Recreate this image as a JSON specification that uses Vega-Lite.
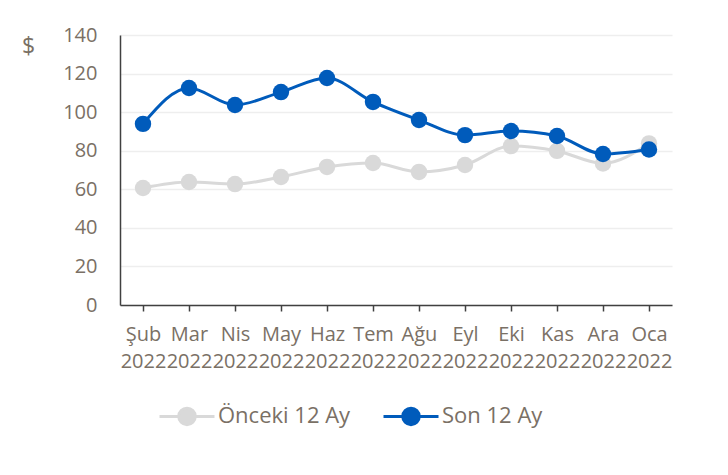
{
  "$schema": "https://vega.github.io/schema/vega-lite/v6.json",
  "width": 552,
  "height": 270,
  "autosize": "none",
  "padding": {"left": 120, "top": 35, "right": 56, "bottom": 170},
  "background": "white",
  "config": {"font": "Open Sans", "view": {"stroke": null}},
  "data": {
    "values": [
      {"month": "Şub 2022", "series": "Önceki 12 Ay", "value": 60.7},
      {"month": "Mar 2022", "series": "Önceki 12 Ay", "value": 63.8},
      {"month": "Nis 2022", "series": "Önceki 12 Ay", "value": 62.7},
      {"month": "May 2022", "series": "Önceki 12 Ay", "value": 66.4},
      {"month": "Haz 2022", "series": "Önceki 12 Ay", "value": 71.6},
      {"month": "Tem 2022", "series": "Önceki 12 Ay", "value": 73.6},
      {"month": "Ağu 2022", "series": "Önceki 12 Ay", "value": 69.0},
      {"month": "Eyl 2022", "series": "Önceki 12 Ay", "value": 72.6},
      {"month": "Eki 2022", "series": "Önceki 12 Ay", "value": 82.4},
      {"month": "Kas 2022", "series": "Önceki 12 Ay", "value": 79.9},
      {"month": "Ara 2022", "series": "Önceki 12 Ay", "value": 73.4},
      {"month": "Oca 2022", "series": "Önceki 12 Ay", "value": 83.8},
      {"month": "Şub 2022", "series": "Son 12 Ay", "value": 93.9},
      {"month": "Mar 2022", "series": "Son 12 Ay", "value": 112.5},
      {"month": "Nis 2022", "series": "Son 12 Ay", "value": 103.7},
      {"month": "May 2022", "series": "Son 12 Ay", "value": 110.4},
      {"month": "Haz 2022", "series": "Son 12 Ay", "value": 117.7},
      {"month": "Tem 2022", "series": "Son 12 Ay", "value": 105.3},
      {"month": "Ağu 2022", "series": "Son 12 Ay", "value": 95.9},
      {"month": "Eyl 2022", "series": "Son 12 Ay", "value": 88.1},
      {"month": "Eki 2022", "series": "Son 12 Ay", "value": 90.2},
      {"month": "Kas 2022", "series": "Son 12 Ay", "value": 87.6},
      {"month": "Ara 2022", "series": "Son 12 Ay", "value": 78.3},
      {"month": "Oca 2022", "series": "Son 12 Ay", "value": 80.6}
    ]
  },
  "encoding": {
    "x": {
      "field": "month",
      "type": "ordinal",
      "sort": null,
      "scale": {"type": "point", "padding": 0.5},
      "axis": {
        "title": null,
        "labelAngle": 0,
        "labelExpr": "split(datum.label, ' ')",
        "labelFontSize": 20,
        "labelLineHeight": 27,
        "labelColor": "#7a7065",
        "labelPadding": 13,
        "labelOverlap": false,
        "labelBound": false,
        "domainColor": "#404040",
        "domainWidth": 1.5,
        "tickColor": "#404040",
        "tickWidth": 1.5,
        "tickSize": 6,
        "grid": false
      }
    },
    "y": {
      "field": "value",
      "type": "quantitative",
      "scale": {"domain": [0, 140], "nice": false},
      "axis": {
        "values": [0, 20, 40, 60, 80, 100, 120, 140],
        "title": "$",
        "titleAngle": 0,
        "titleX": -92,
        "titleY": 11,
        "titleAlign": "center",
        "titleBaseline": "middle",
        "titleFontSize": 23,
        "titleFontWeight": "normal",
        "titleColor": "#7a7065",
        "labelFontSize": 20,
        "labelColor": "#7a7065",
        "labelPadding": 23,
        "ticks": false,
        "domainColor": "#404040",
        "domainWidth": 1.5,
        "gridColor": "#eeeeee",
        "gridWidth": 1.5
      }
    },
    "color": {
      "field": "series",
      "type": "nominal",
      "scale": {"domain": ["Önceki 12 Ay", "Son 12 Ay"], "range": ["#d9d9d9", "#005bbb"]},
      "legend": {
        "title": null,
        "orient": "none",
        "direction": "horizontal",
        "legendX": 38,
        "legendY": 352,
        "symbolType": "M-1,0 L-0.3,0 M0.3,0 L1,0 M0.3,0 A0.3,0.3 0 1,1 -0.3,0 A0.3,0.3 0 1,1 0.3,0 Z",
        "symbolSize": 3025,
        "symbolStrokeWidth": 3,
        "labelFontSize": 22,
        "labelColor": "#7a7065",
        "labelOffset": 2,
        "columnPadding": 26,
        "encode": {
          "symbols": {
            "update": {
              "fill": {"scale": "color", "field": "value"},
              "stroke": {"scale": "color", "field": "value"},
              "fillOpacity": {"value": 1},
              "strokeOpacity": {"value": 1}
            }
          }
        }
      }
    }
  },
  "layer": [
    {"mark": {"type": "line", "interpolate": "monotone", "strokeWidth": 3}},
    {"mark": {"type": "point", "filled": true, "size": 270, "opacity": 1}}
  ]
}
